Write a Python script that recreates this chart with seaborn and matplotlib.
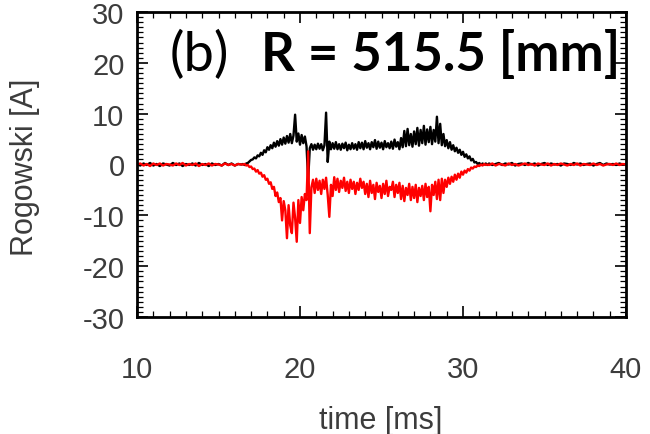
import numpy as np
import pandas as pd
import matplotlib
matplotlib.use("Agg")
import matplotlib.pyplot as plt
import seaborn as sns
from matplotlib.ticker import MultipleLocator

# ---------------- data ----------------
# quiet part before the discharge: 10.0 .. 16.4 ms, every 0.2 ms
t_pre_start, t_pre_step = 10.0, 0.2
black_pre = [0.1, -0.2, 0.2, -0.1, 0.3, -0.2, 0.1, -0.3, 0.2, 0.0, -0.2, 0.3, -0.1,
             0.2, -0.3, 0.1, -0.1, 0.2, -0.2, 0.3, -0.1, 0.1, -0.3, 0.2, -0.1, 0.1,
             -0.2, 0.3, -0.1, 0.2, -0.2, 0.1, 0.0]
red_pre = [0.0, 0.2, -0.2, 0.1, -0.3, 0.2, -0.1, 0.2, -0.2, 0.1, 0.0, -0.2, 0.2,
           -0.1, 0.3, -0.2, 0.1, -0.1, 0.2, -0.3, 0.1, -0.1, 0.2, -0.2, 0.1, 0.0,
           -0.2, 0.2, -0.1, 0.1, -0.2, 0.1, 0.0]

# active part: 16.5 .. 31.5 ms, every 0.1 ms
t_act_start, t_act_step = 16.5, 0.1
black_act = [
    0.1, -0.1, 0.2, 0.3, 0.6, 0.9, 1.0, 1.4, 1.2, 1.8,
    1.6, 2.3, 1.9, 2.8, 2.4, 3.4, 2.9, 3.8, 3.2, 4.3,
    3.5, 4.6, 3.7, 5.0, 3.9, 5.3, 4.1, 5.6, 4.3, 6.0,
    4.2, 5.7, 9.8, 4.5, 6.1, 3.9, 5.8, 4.2, 5.5, 3.6,
    -3.0, 3.2, 4.0, 2.9, 3.9, 3.0, 4.1, 3.1, 4.0, 2.8,
    3.8, 10.2, 0.5, 4.5, 3.0, 4.2, 3.1, 4.4, 3.0, 4.0,
    2.9, 4.1, 3.2, 4.3, 2.8, 3.9, 3.0, 4.2, 3.1, 4.0,
    2.9, 4.4, 3.2, 4.3, 3.0, 4.6, 3.3, 4.2, 3.0, 4.4,
    3.4, 4.8, 3.1, 4.5, 3.3, 4.3, 3.0, 4.6, 3.4, 4.2,
    3.2, 4.5, 3.1, 4.9, 3.5, 4.4, 3.0, 5.2, 3.4, 6.6,
    3.6, 7.0, 3.8, 6.0, 3.5, 6.5, 4.0, 7.2, 3.7, 6.8,
    4.2, 7.6, 3.9, 6.9, 4.4, 7.4, 4.0, 6.8, 4.5, 9.4,
    4.2, 8.0, 3.8, 6.0, 3.6, 4.8, 3.2, 4.4, 2.9, 3.8,
    2.6, 3.3, 2.3, 2.9, 1.9, 2.5, 1.5, 2.0, 1.2, 1.6,
    0.8, 1.1, 0.4, 0.5, 0.1, 0.3, -0.1, 0.2, 0.0, 0.2,
    -0.1]
red_act = [
    0.0, 0.1, -0.2, -0.1, -0.5, -0.4, -0.9, -0.8, -1.4, -1.1,
    -1.8, -1.6, -2.4, -2.1, -3.0, -2.8, -3.8, -3.5, -4.8, -4.4,
    -6.2, -5.5, -7.4, -6.6, -11.0, -7.2, -9.0, -14.5, -8.0, -12.0,
    -13.5, -7.5, -10.5, -15.2, -7.0, -11.5, -6.4, -9.0, -5.8, -7.0,
    2.6, -13.5, -4.5, -3.0, -5.6, -2.8, -5.0, -3.2, -5.8, -3.0,
    -4.8, -2.6, -6.0, -10.3, -4.0, -6.2, -2.5, -5.0, -2.8, -5.4,
    -3.2, -4.6, -2.6, -5.2, -3.4, -5.6, -3.0, -4.8, -3.4, -5.8,
    -3.6, -5.0, -2.8, -4.6, -3.4, -5.8, -3.8, -6.4, -3.2, -5.6,
    -4.0, -6.8, -3.6, -5.4, -4.2, -6.6, -3.8, -5.8, -3.2, -6.2,
    -4.4, -5.0, -3.4, -6.4, -4.0, -5.6, -3.6, -6.8, -4.2, -7.2,
    -4.6, -6.0, -3.8, -7.0, -4.4, -6.6, -4.0, -7.4, -4.6, -6.2,
    -4.2, -7.0, -3.8, -6.4, -4.4, -9.2, -4.0, -6.0, -3.4, -6.8,
    -3.0, -7.0, -2.8, -5.6, -3.0, -4.4, -2.6, -3.8, -2.4, -3.4,
    -2.0, -3.0, -1.8, -2.6, -1.4, -2.0, -1.2, -1.6, -0.9, -1.2,
    -0.6, -0.8, -0.4, -0.5, -0.2, -0.3, 0.0, -0.2, 0.1, -0.1,
    0.0]

# quiet part after the discharge: 31.6 .. 40.0 ms, every 0.2 ms
t_post_start, t_post_step = 31.6, 0.2
black_post = [0.2, -0.1, 0.1, 0.3, -0.1, 0.2, 0.0, 0.3, -0.2, 0.1, 0.2, -0.1, 0.3,
              0.0, 0.2, -0.2, 0.1, 0.3, -0.1, 0.2, 0.0, 0.1, -0.2, 0.2, 0.1, -0.1,
              0.3, 0.0, 0.2, -0.1, 0.1, 0.2, -0.2, 0.1, 0.3, -0.1, 0.2, 0.0, 0.1,
              -0.1, 0.2, 0.0, 0.1]
red_post = [-0.1, 0.2, -0.2, 0.1, 0.0, -0.2, 0.2, -0.1, 0.1, -0.2, 0.0, 0.2, -0.1,
            0.1, -0.2, 0.2, 0.0, -0.1, 0.2, -0.2, 0.1, -0.1, 0.2, 0.0, -0.2, 0.1,
            -0.1, 0.2, -0.2, 0.1, 0.0, -0.1, 0.2, -0.1, 0.1, -0.2, 0.0, 0.1, -0.1,
            0.2, -0.1, 0.1, 0.0]

xticks = [10, 20, 30, 40]
yticks = [-30, -20, -10, 0, 10, 20, 30]
panel_label = "(b)"
radius_label = "R = 515.5 [mm]"
xlabel = "time [ms]"
ylabel = "Rogowski [A]"


def grid(start, step, n):
    return np.round(start + step * np.arange(n), 3)


def series(pre, act, post):
    t = np.concatenate([grid(t_pre_start, t_pre_step, len(pre)),
                        grid(t_act_start, t_act_step, len(act)),
                        grid(t_post_start, t_post_step, len(post))])
    v = np.concatenate([pre, act, post])
    return t, v


tb, vb = series(black_pre, black_act, black_post)
tr, vr = series(red_pre, red_act, red_post)
df = pd.concat([
    pd.DataFrame({"time": tb, "I": vb, "ch": "black"}),
    pd.DataFrame({"time": tr, "I": vr, "ch": "red"}),
], ignore_index=True)

# ---------------- plot ----------------
sns.set_style("white")
plt.rcParams["font.family"] = ["Liberation Sans", "DejaVu Sans"]
plt.rcParams["axes.unicode_minus"] = False

fig = plt.figure(figsize=(6.5, 4.35), dpi=100)
ax = fig.add_axes([137 / 650, 1 - 318 / 435, (626 - 137) / 650, (318 - 13) / 435])

sns.lineplot(data=df, x="time", y="I", hue="ch", hue_order=["black", "red"],
             palette={"black": "#000000", "red": "#ff0000"}, estimator=None,
             sort=False, linewidth=1.7, legend=False, ax=ax)

ax.set_xlim(10, 40)
ax.set_ylim(-30, 30)
ax.set_xticks(xticks)
ax.set_yticks(yticks)
ax.xaxis.set_minor_locator(MultipleLocator(1))
ax.yaxis.set_minor_locator(MultipleLocator(1))
ax.tick_params(which="both", direction="in", top=True, right=True,
               bottom=True, left=True, color="black")
ax.tick_params(which="major", length=8, width=1.2)
ax.tick_params(which="minor", length=4, width=0.9)
ax.tick_params(axis="x", which="major", pad=27, labelsize=21, labelcolor="#3c3c3c")
ax.tick_params(axis="y", which="major", pad=9, labelsize=21, labelcolor="#3c3c3c")
for s in ax.spines.values():
    s.set_linewidth(2.0)
    s.set_color("black")
    s.set_visible(True)

ax.set_xlabel("")
ax.set_ylabel("")
fig.text(381 / 650, 1 - 421 / 435, xlabel, ha="center", va="center",
         fontsize=22, color="#3c3c3c")
fig.text(25 / 650, 1 - 167 / 435, ylabel, ha="center", va="center",
         rotation=90, fontsize=22, color="#3c3c3c")

ax.text(170 / 650, 1 - 55 / 435, panel_label, transform=fig.transFigure,
        ha="left", va="center", fontsize=39, family=["Lato", "DejaVu Sans"],
        color="black")
ax.text(620 / 650, 1 - 55 / 435, radius_label, transform=fig.transFigure,
        ha="right", va="center", fontsize=38, fontweight="bold",
        family=["Lato", "DejaVu Sans"], color="black")

fig.savefig("out.png", dpi=100)
